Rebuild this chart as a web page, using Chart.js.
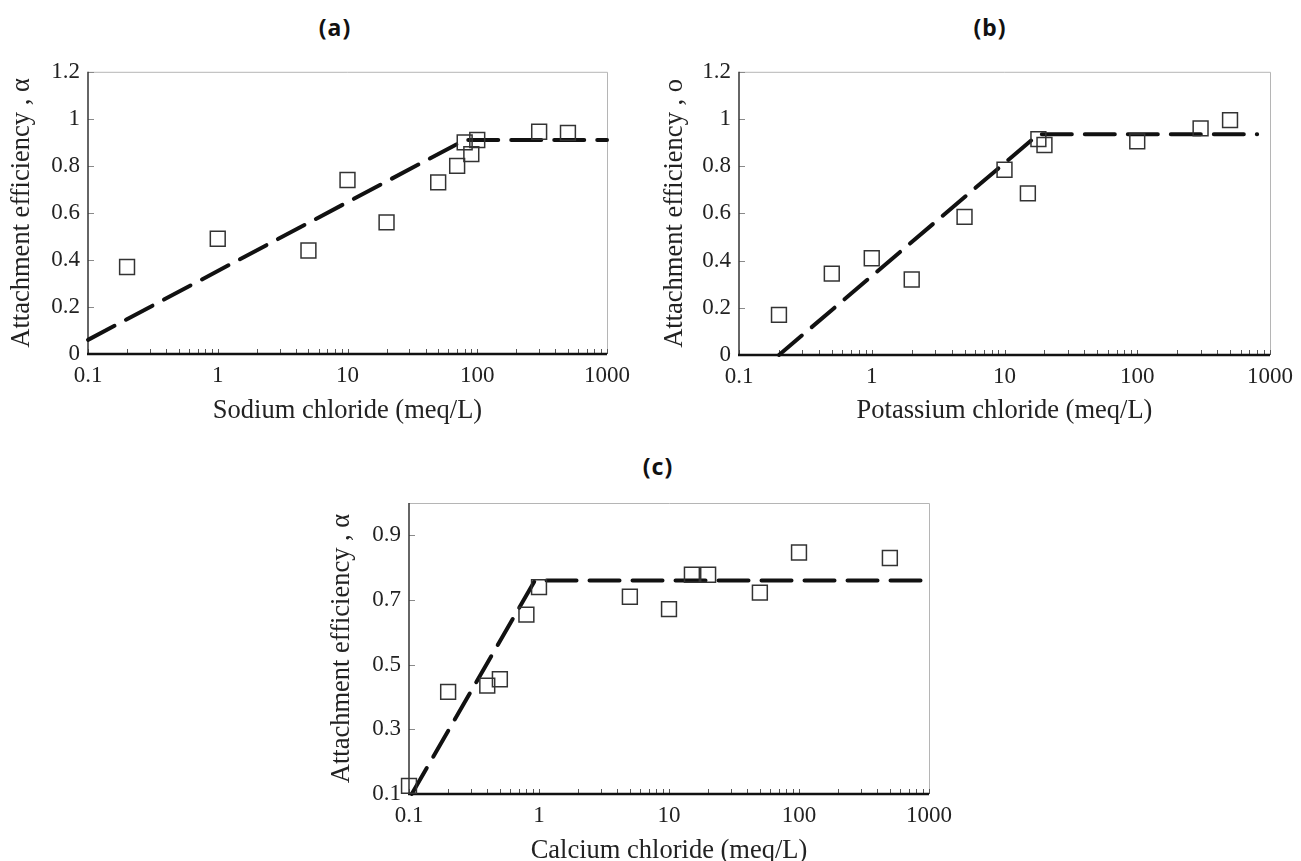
<!DOCTYPE html>
<html>
<head>
<meta charset="utf-8">
<script src="https://cdn.jsdelivr.net/npm/chart.js@4.4.0/dist/chart.umd.min.js"></script>
<style>
  html, body { margin: 0; padding: 0; background: #fff; width: 1301px; height: 861px; overflow: hidden; }
  .panel { position: absolute; }
  .tag { position: absolute; font: bold 23px "Noto Sans", Lato, sans-serif; letter-spacing: 1px; color: #111; transform: translateX(-50%); line-height: 26px; }
</style>
</head>
<body>
<div class="tag" style="left:335px; top:14px">(a)</div>
<div class="tag" style="left:990px; top:14px">(b)</div>
<div class="tag" style="left:658px; top:453px">(c)</div>

<canvas id="chartA" class="panel" width="650" height="390" style="left:0px; top:50px"></canvas>
<canvas id="chartB" class="panel" width="651" height="390" style="left:650px; top:50px"></canvas>
<canvas id="chartC" class="panel" width="660" height="400" style="left:300px; top:480px"></canvas>

<script>
// x axis decades (log scale)
const xMajor = [0.1, 1, 10, 100, 1000];
const xTickLabels = ['0.1', '1', '10', '100', '1000'];

// (a) sodium chloride
const naclX = [0.2, 1, 5, 10, 20, 50, 70, 80, 90, 100, 300, 500];
const naclY = [0.37, 0.49, 0.44, 0.74, 0.56, 0.73, 0.80, 0.90, 0.85, 0.91, 0.945, 0.94];
const naclFitX = [0.1, 80, 1000];
const naclFitY = [0.06, 0.91, 0.91];
const naclYTicks = [0, 0.2, 0.4, 0.6, 0.8, 1, 1.2];
const naclYLabels = ['0', '0.2', '0.4', '0.6', '0.8', '1', '1.2'];

// (b) potassium chloride
const kclX = [0.2, 0.5, 1, 2, 5, 10, 15, 18, 20, 100, 300, 500];
const kclY = [0.17, 0.345, 0.41, 0.32, 0.585, 0.785, 0.685, 0.915, 0.89, 0.905, 0.96, 0.995];
const kclFitX = [0.2, 18, 800];
const kclFitY = [0, 0.935, 0.935];
const kclYTicks = [0, 0.2, 0.4, 0.6, 0.8, 1, 1.2];
const kclYLabels = ['0', '0.2', '0.4', '0.6', '0.8', '1', '1.2'];

// (c) calcium chloride
const caclX = [0.1, 0.2, 0.4, 0.5, 0.8, 1, 5, 10, 15, 20, 50, 100, 500];
const caclY = [0.125, 0.416, 0.435, 0.455, 0.655, 0.74, 0.71, 0.672, 0.778, 0.778, 0.723, 0.847, 0.83];
const caclFitX = [0.105, 0.93, 950];
const caclFitY = [0.1, 0.76, 0.76];
const caclYTicks = [0.1, 0.3, 0.5, 0.7, 0.9];
const caclYLabels = ['0.1', '0.3', '0.5', '0.7', '0.9'];

const frame = {
    id: 'frame',
    beforeDatasetsDraw(chart) {
        const { ctx, chartArea: a, scales: { x, y } } = chart;
        ctx.save();
        ctx.lineWidth = 1;
        ctx.strokeStyle = '#b5b5b5';
        ctx.beginPath();
        ctx.moveTo(a.left, a.top + 0.5);
        ctx.lineTo(a.right + 0.5, a.top + 0.5);
        ctx.lineTo(a.right + 0.5, a.bottom);
        ctx.stroke();

        // inward tick marks
        ctx.strokeStyle = '#8a8a8a';
        y.ticks.forEach(t => {
            const py = Math.round(y.getPixelForValue(t.value)) + 0.5;
            ctx.beginPath();
            ctx.moveTo(a.left, py);
            ctx.lineTo(a.left + 6, py);
            ctx.stroke();
        });
        ctx.strokeStyle = '#555';
        x.ticks.forEach(t => {
            const px = Math.round(x.getPixelForValue(t.value)) + 0.5;
            ctx.beginPath();
            ctx.moveTo(px, a.bottom);
            ctx.lineTo(px, a.bottom - 5);
            ctx.stroke();
        });

        ctx.strokeStyle = '#333';
        ctx.lineWidth = 1.5;
        ctx.beginPath();
        ctx.moveTo(a.left, a.top);
        ctx.lineTo(a.left, a.bottom);
        ctx.stroke();
        ctx.strokeStyle = '#111';
        ctx.lineWidth = 2.5;
        ctx.beginPath();
        ctx.moveTo(a.left - 1, a.bottom);
        ctx.lineTo(a.right, a.bottom);
        ctx.stroke();
        ctx.restore();
    }
};

function toPoints(xs, ys) {
    return xs.map((v, i) => ({ x: v, y: ys[i] }));
}

function makeChart(id, xs, ys, fitX, fitY, yTicks, yLabels, xTitle, yTitle, box) {
    const ctx = document.getElementById(id).getContext('2d');
    return new Chart(ctx, {
        data: {
            datasets: [{
                type: 'scatter',
                data: toPoints(xs, ys),
                pointStyle: 'rect',
                pointRadius: 10.5,
                borderColor: '#333',
                borderWidth: 1.5,
                backgroundColor: 'rgba(0,0,0,0)',
                clip: false
            }, {
                type: 'line',
                data: toPoints(fitX, fitY),
                borderColor: '#111',
                borderWidth: 4,
                borderDash: [30, 13],
                borderCapStyle: 'round',
                pointRadius: 0,
                fill: false,
                tension: 0,
                clip: false
            }]
        },
        options: {
            responsive: false,
            animation: false,
            events: [],
            layout: { padding: { top: box.top, right: box.right, left: 0, bottom: 0 } },
            plugins: { legend: { display: false }, tooltip: { enabled: false } },
            scales: {
                x: {
                    type: 'logarithmic',
                    min: xMajor[0],
                    max: xMajor[xMajor.length - 1],
                    grid: { display: false, drawTicks: false },
                    border: { display: false },
                    afterBuildTicks(axis) {
                        const t = [];
                        for (let i = 0; i < xMajor.length - 1; i++) {
                            for (let m = 1; m < 10; m++) t.push({ value: xMajor[i] * m });
                        }
                        t.push({ value: xMajor[xMajor.length - 1] });
                        axis.ticks = t;
                    },
                    afterFit(axis) { axis.height = box.xH; },
                    ticks: {
                        autoSkip: false,
                        maxRotation: 0,
                        padding: 8,
                        color: '#222',
                        font: { family: 'Liberation Serif', size: 23 },
                        callback(value) {
                            const k = xMajor.findIndex(v => Math.abs(value - v) / v < 1e-6);
                            return k >= 0 ? xTickLabels[k] : '';
                        }
                    },
                    title: {
                        display: true,
                        text: xTitle,
                        color: '#222',
                        font: { family: 'Liberation Serif', size: 26.5 },
                        padding: { top: 0, bottom: 13 }
                    }
                },
                y: {
                    min: yTicks[0],
                    max: box.yMax,
                    grid: { display: false, drawTicks: false },
                    border: { display: false },
                    afterBuildTicks(axis) { axis.ticks = yTicks.map(v => ({ value: v })); },
                    afterFit(axis) { axis.width = box.yW; },
                    ticks: {
                        padding: 8,
                        color: '#222',
                        font: { family: 'Liberation Serif', size: 23 },
                        callback(value, index) { return yLabels[index]; }
                    },
                    title: {
                        display: true,
                        text: yTitle,
                        color: '#222',
                        font: { family: 'Liberation Serif', size: 26.5 },
                        padding: { top: box.yPad, bottom: 0 }
                    }
                }
            }
        },
        plugins: [frame]
    });
}

makeChart('chartA', naclX, naclY, naclFitX, naclFitY, naclYTicks, naclYLabels,
    'Sodium chloride (meq/L)', 'Attachment efficiency , α',
    { top: 21, right: 43, yW: 88, xH: 86, yPad: 6, yMax: 1.2 });

makeChart('chartB', kclX, kclY, kclFitX, kclFitY, kclYTicks, kclYLabels,
    'Potassium chloride (meq/L)', 'Attachment efficiency , o',
    { top: 21, right: 28, yW: 89, xH: 85, yPad: 9, yMax: 1.2 });

makeChart('chartC', caclX, caclY, caclFitX, caclFitY, caclYTicks, caclYLabels,
    'Calcium chloride (meq/L)', 'Attachment efficiency , α',
    { top: 23, right: 25, yW: 109, xH: 86, yPad: 26, yMax: 1.0 });
</script>
</body>
</html>
